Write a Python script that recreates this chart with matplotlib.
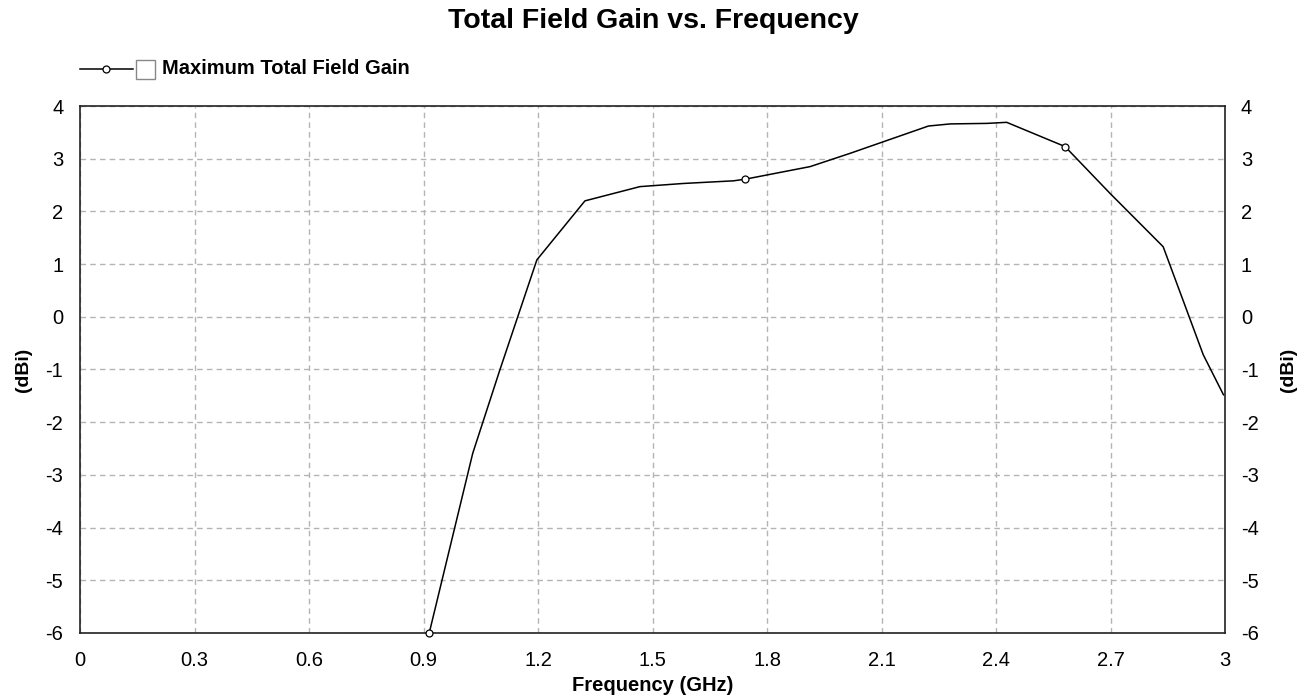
import matplotlib
matplotlib.use("Agg")
import matplotlib.pyplot as plt
from matplotlib.lines import Line2D
from matplotlib.patches import Rectangle

plt.rcParams['font.family'] = ['Liberation Sans', 'DejaVu Sans']
plt.rcParams['axes.unicode_minus'] = False

freq_ghz = [0.915, 1.029, 1.100, 1.197, 1.323, 1.467, 1.581, 1.712, 1.742, 1.913,
            2.017, 2.223, 2.280, 2.376, 2.428, 2.581, 2.699, 2.838, 2.943, 2.996]
gain_dbi = [-6.0, -2.59, -1.01, 1.08, 2.20, 2.47, 2.53, 2.58, 2.61, 2.85,
            3.10, 3.62, 3.66, 3.67, 3.69, 3.23, 2.34, 1.33, -0.72, -1.48]
marker_idx = [0, 8, 15]
x_ticks = [0, 0.3, 0.6, 0.9, 1.2, 1.5, 1.8, 2.1, 2.4, 2.7, 3.0]
x_tick_labels = ["0", "0.3", "0.6", "0.9", "1.2", "1.5", "1.8", "2.1", "2.4", "2.7", "3"]
y_ticks = [4, 3, 2, 1, 0, -1, -2, -3, -4, -5, -6]
title = "Total Field Gain vs. Frequency"
series_name = "Maximum Total Field Gain"

W, H = 1307, 696
fig = plt.figure(figsize=(W / 100, H / 100), dpi=100)
ax = fig.add_axes([80 / W, 1 - 633 / H, (1225 - 80) / W, (633 - 106) / H])

ax.plot(freq_ghz, gain_dbi, color='black', lw=1.1, marker='o', markevery=marker_idx,
        markersize=5, markerfacecolor='white', markeredgecolor='black', markeredgewidth=0.9,
        clip_on=False, zorder=3)

ax.set_xlim(0, 3)
ax.set_ylim(-6, 4)
ax.set_xticks(x_ticks)
ax.set_xticklabels(x_tick_labels)
ax.set_yticks(y_ticks)
ax.grid(True, color='#b4b4b4', linestyle=(0, (4, 3)), lw=1.0)
ax.tick_params(length=0, labelsize=14.5)
ax.tick_params(axis='x', pad=13)
ax.tick_params(axis='y', pad=12)
for s in ax.spines.values():
    s.set_color('#222222')
    s.set_linewidth(1.2)

ax.set_xlabel("Frequency (GHz)", fontsize=14.5, fontweight='bold', labelpad=4)
ax.set_ylabel("(dBi)", fontsize=14, fontweight='bold', labelpad=10)

ax2 = ax.twinx()
ax2.set_ylim(-6, 4)
ax2.set_yticks(y_ticks)
ax2.tick_params(length=0, labelsize=14.5, pad=11.5)
ax2.set_ylabel("(dBi)", fontsize=14, fontweight='bold', labelpad=15.5)
for s in ax2.spines.values():
    s.set_visible(False)

fig.text(0.5, 1 - 21 / H, title, ha='center', va='center', fontsize=20.5, fontweight='bold')

ly = 1 - 69 / H
fig.add_artist(Line2D([80 / W, 133 / W], [ly, ly], color='black', lw=1.1))
fig.add_artist(Line2D([106 / W], [ly], marker='o', markersize=5, markerfacecolor='white',
                      markeredgecolor='black', markeredgewidth=0.9))
fig.add_artist(Rectangle((136 / W, 1 - 79 / H), 19 / W, 19 / H, transform=fig.transFigure,
                         facecolor='white', edgecolor='#888888', lw=1.0))
fig.text(162 / W, ly, series_name, ha='left', va='center', fontsize=14.5, fontweight='bold')

fig.savefig("out.png", dpi=100)
